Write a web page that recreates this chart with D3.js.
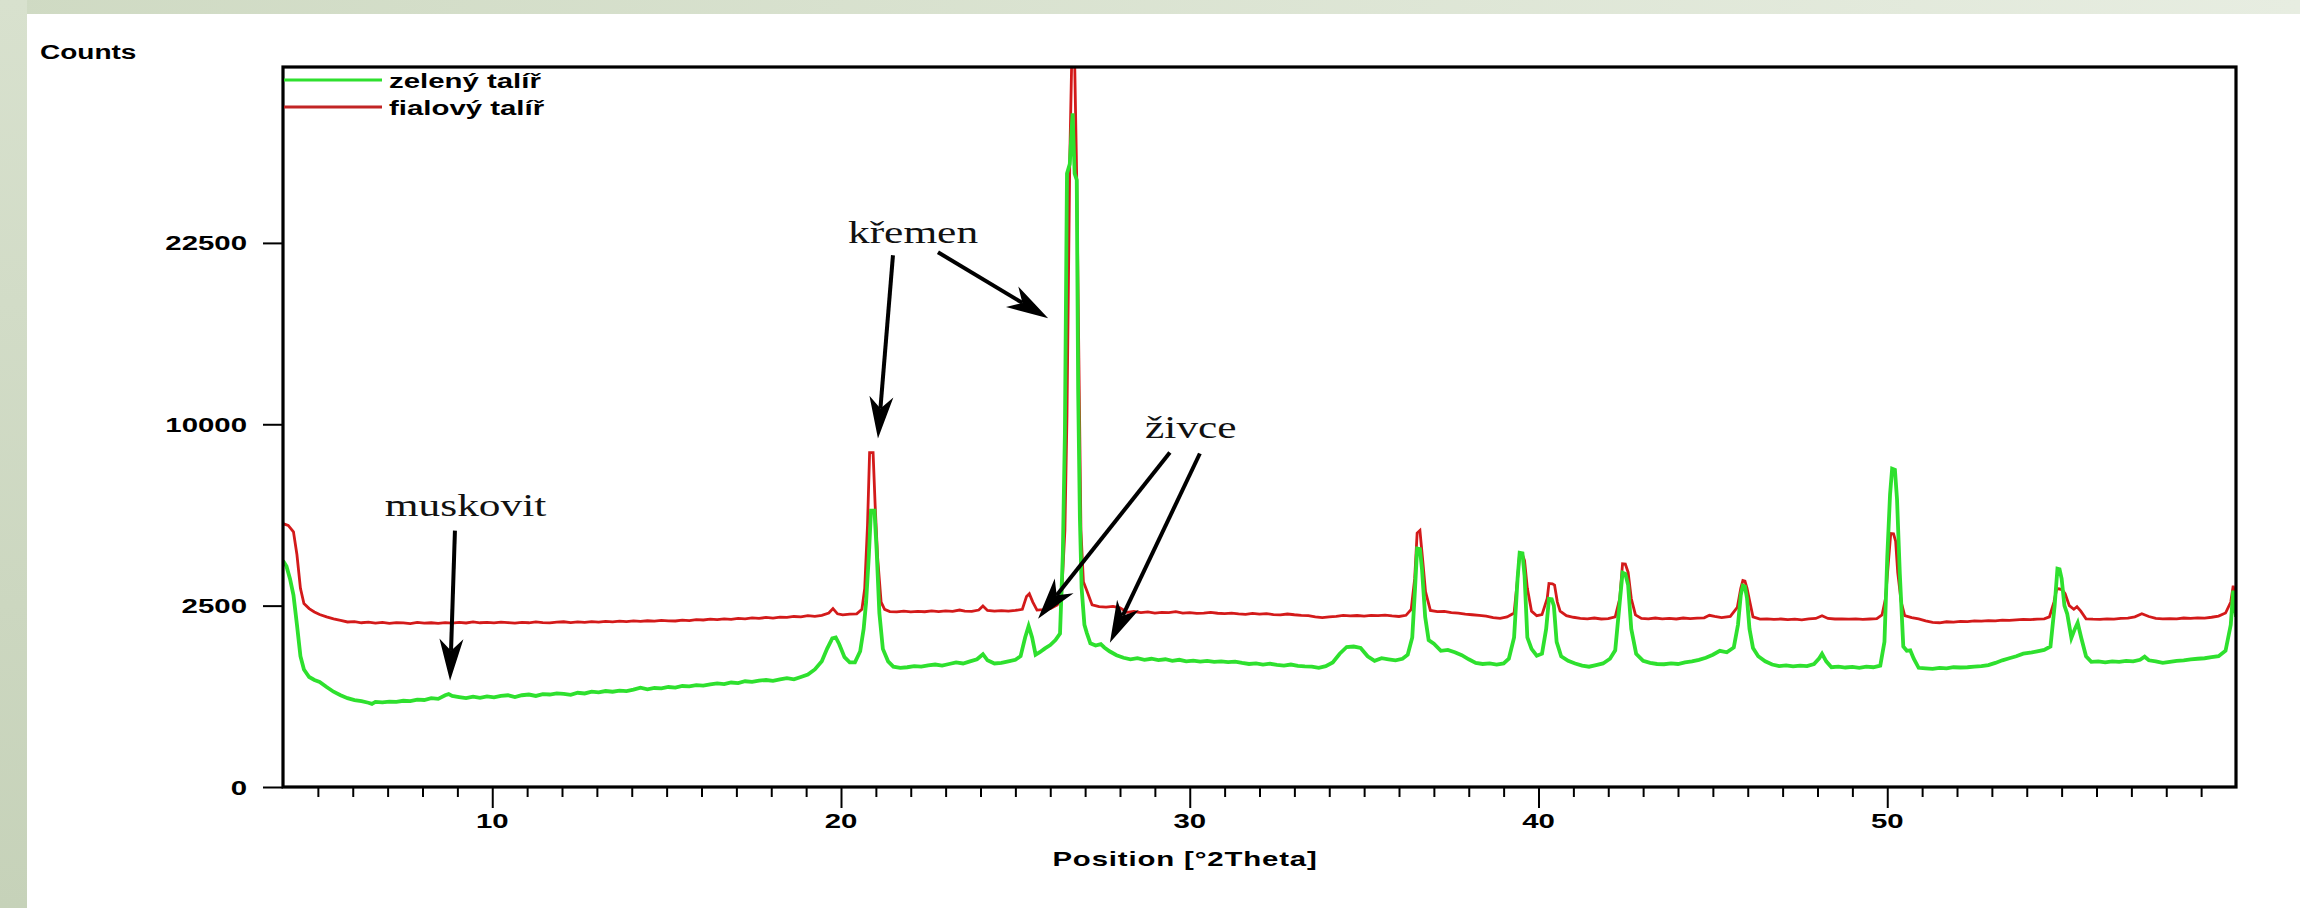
<!DOCTYPE html>
<html>
<head>
<meta charset="utf-8">
<script src="https://cdn.jsdelivr.net/npm/d3@7"></script>
<style>
  body { margin: 0; background: #fff; }
  svg { display: block; }
  .sans { font-family: "Liberation Sans", Arial, sans-serif; font-weight: bold; fill: #000; }
  .serif { font-family: "Liberation Serif", "Times New Roman", serif; fill: #111; }
</style>
</head>
<body>
<div id="chart"></div>
<script>
// --- data: [2Theta, counts] ---
const greenData = [
  [4.00,3890],[4.10,3700],[4.20,3300],[4.30,2800],[4.40,2000],[4.50,1300],[4.60,1050],[4.75,920],[4.90,870],
  [5.05,840],[5.25,760],[5.45,690],[5.65,640],[5.85,600],[6.05,575],[6.25,560],[6.45,540],[6.55,525],[6.65,550],
  [6.85,545],[7.05,555],[7.25,550],[7.45,565],[7.65,560],[7.85,580],[8.05,575],[8.25,600],[8.45,590],[8.65,640],
  [8.75,655],[8.85,630],[9.05,615],[9.25,600],[9.45,620],[9.65,605],[9.85,625],[10.05,610],[10.25,630],[10.45,640],
  [10.65,615],[10.85,640],[11.05,650],[11.25,630],[11.45,655],[11.65,650],[11.85,665],[12.05,660],[12.25,645],
  [12.45,675],[12.65,665],[12.85,690],[13.05,680],[13.25,700],[13.45,690],[13.65,705],[13.85,700],[14.05,720],
  [14.25,750],[14.45,725],[14.65,745],[14.85,740],[15.05,760],[15.25,750],[15.45,775],[15.65,770],[15.85,790],
  [16.05,780],[16.25,800],[16.45,815],[16.65,805],[16.85,830],[17.05,820],[17.25,850],[17.45,840],[17.65,860],
  [17.85,870],[18.05,855],[18.25,880],[18.45,900],[18.65,880],[18.85,920],[19.05,960],[19.25,1050],[19.45,1200],
  [19.60,1450],[19.75,1680],[19.85,1700],[19.95,1550],[20.10,1280],[20.25,1180],[20.40,1180],[20.55,1400],
  [20.65,1900],[20.72,2600],[20.80,4100],[20.86,5800],[20.96,5800],[21.02,4300],[21.10,2300],[21.20,1450],
  [21.35,1200],[21.50,1100],[21.70,1080],[21.90,1090],[22.10,1110],[22.30,1100],[22.50,1125],[22.70,1140],
  [22.90,1120],[23.10,1150],[23.30,1180],[23.50,1160],[23.70,1200],[23.90,1240],[24.07,1340],[24.20,1220],
  [24.40,1160],[24.60,1170],[24.80,1200],[25.00,1230],[25.15,1300],[25.28,1700],[25.38,1970],[25.48,1700],
  [25.58,1330],[25.70,1380],[25.85,1460],[26.00,1530],[26.15,1640],[26.28,1790],[26.36,4100],[26.42,9500],
  [26.48,28600],[26.56,29500],[26.64,34500],[26.70,28600],[26.76,28000],[26.80,12000],[26.85,5500],
  [26.90,3000],[26.98,2000],[27.05,1800],[27.15,1570],[27.30,1520],[27.45,1550],[27.55,1480],[27.70,1400],
  [27.90,1320],[28.10,1270],[28.30,1240],[28.50,1260],[28.70,1230],[28.90,1250],[29.10,1225],[29.30,1240],
  [29.50,1210],[29.70,1230],[29.90,1200],[30.10,1215],[30.30,1195],[30.50,1210],[30.70,1190],[30.90,1200],
  [31.10,1185],[31.30,1195],[31.50,1170],[31.70,1150],[31.90,1160],[32.10,1140],[32.30,1155],[32.50,1135],
  [32.70,1120],[32.90,1140],[33.10,1115],[33.30,1105],[33.50,1100],[33.70,1080],[33.90,1110],[34.10,1180],
  [34.30,1350],[34.50,1490],[34.70,1500],[34.90,1470],[35.10,1300],[35.30,1210],[35.50,1260],[35.70,1240],
  [35.90,1220],[36.10,1250],[36.25,1330],[36.38,1700],[36.46,3000],[36.52,4320],[36.60,4300],[36.66,3600],
  [36.75,2200],[36.85,1640],[37.00,1560],[37.20,1410],[37.40,1430],[37.60,1380],[37.80,1320],[38.00,1240],
  [38.20,1170],[38.40,1150],[38.60,1160],[38.80,1140],[39.00,1160],[39.15,1250],[39.30,1700],[39.40,3300],
  [39.46,4170],[39.54,4150],[39.60,3400],[39.68,1700],[39.80,1450],[39.95,1310],[40.10,1350],[40.22,1900],
  [40.30,2690],[40.38,2680],[40.44,2500],[40.52,1600],[40.65,1300],[40.85,1210],[41.05,1160],[41.25,1120],
  [41.45,1100],[41.65,1130],[41.85,1160],[42.05,1250],[42.20,1420],[42.33,2600],[42.41,3490],[42.49,3450],
  [42.57,3100],[42.66,1900],[42.80,1350],[43.00,1210],[43.20,1170],[43.40,1150],[43.60,1145],[43.80,1160],
  [44.00,1150],[44.20,1180],[44.40,1200],[44.60,1230],[44.80,1270],[45.00,1330],[45.20,1410],[45.40,1380],
  [45.60,1480],[45.72,2000],[45.80,2800],[45.86,3080],[45.92,3050],[45.98,2700],[46.05,1900],[46.15,1470],
  [46.30,1300],[46.50,1200],[46.70,1140],[46.90,1110],[47.10,1125],[47.30,1105],[47.50,1120],[47.70,1110],
  [47.90,1150],[48.05,1260],[48.13,1350],[48.25,1200],[48.40,1090],[48.60,1100],[48.80,1085],[49.00,1095],
  [49.20,1080],[49.40,1100],[49.60,1090],[49.80,1120],[49.92,1600],[50.00,4000],[50.08,6500],[50.14,7700],
  [50.22,7650],[50.28,6300],[50.36,3460],[50.46,1500],[50.56,1410],[50.66,1420],[50.76,1250],[50.90,1080],
  [51.10,1070],[51.30,1060],[51.50,1080],[51.70,1070],[51.90,1090],[52.10,1085],[52.30,1090],[52.50,1100],
  [52.70,1110],[52.90,1130],[53.10,1170],[53.30,1220],[53.50,1260],[53.70,1300],[53.90,1350],[54.10,1370],
  [54.30,1400],[54.50,1430],[54.68,1500],[54.80,2500],[54.88,3620],[54.94,3600],[55.00,3300],[55.08,2500],
  [55.16,2280],[55.28,1690],[55.38,1900],[55.46,2050],[55.56,1700],[55.70,1300],[55.85,1190],[56.05,1200],
  [56.25,1180],[56.45,1200],[56.65,1190],[56.85,1210],[57.05,1200],[57.25,1230],[57.38,1290],[57.50,1220],
  [57.70,1200],[57.90,1170],[58.10,1190],[58.30,1210],[58.50,1220],[58.70,1240],[58.90,1250],[59.10,1260],
  [59.30,1280],[59.50,1300],[59.70,1410],[59.85,2000],[59.92,2930],[60.00,2200]
];

const redData = [
  [4.00,5270],[4.15,5200],[4.30,4950],[4.40,4100],[4.50,3000],[4.60,2560],[4.75,2420],[4.90,2330],[5.05,2260],
  [5.25,2200],[5.45,2150],[5.65,2110],[5.85,2070],[6.05,2080],[6.25,2050],[6.45,2065],[6.65,2040],[6.85,2060],
  [7.05,2035],[7.25,2055],[7.45,2045],[7.65,2030],[7.85,2060],[8.05,2040],[8.25,2050],[8.45,2035],[8.65,2055],
  [8.85,2040],[9.05,2060],[9.25,2045],[9.45,2070],[9.65,2050],[9.85,2060],[10.05,2045],[10.25,2065],[10.45,2055],
  [10.65,2040],[10.85,2060],[11.05,2050],[11.25,2070],[11.45,2055],[11.65,2045],[11.85,2065],[12.05,2075],
  [12.25,2055],[12.45,2070],[12.65,2060],[12.85,2080],[13.05,2065],[13.25,2085],[13.45,2070],[13.65,2090],
  [13.85,2080],[14.05,2095],[14.25,2085],[14.45,2100],[14.65,2090],[14.85,2110],[15.05,2100],[15.25,2095],
  [15.45,2115],[15.65,2105],[15.85,2130],[16.05,2120],[16.25,2140],[16.45,2130],[16.65,2150],[16.85,2135],
  [17.05,2160],[17.25,2150],[17.45,2175],[17.65,2160],[17.85,2185],[18.05,2170],[18.25,2195],[18.45,2185],
  [18.65,2210],[18.85,2200],[19.05,2230],[19.25,2215],[19.45,2240],[19.65,2300],[19.77,2420],[19.90,2280],
  [20.05,2250],[20.25,2270],[20.45,2280],[20.60,2400],[20.68,3000],[20.76,5200],[20.82,8500],[20.92,8500],
  [20.98,6000],[21.05,4000],[21.15,2600],[21.25,2400],[21.40,2340],[21.60,2330],[21.80,2350],[22.00,2330],
  [22.20,2345],[22.40,2335],[22.60,2355],[22.80,2340],[23.00,2360],[23.20,2345],[23.40,2380],[23.55,2350],
  [23.75,2345],[23.95,2380],[24.07,2490],[24.20,2370],[24.40,2350],[24.60,2365],[24.80,2350],[25.00,2370],
  [25.20,2400],[25.32,2760],[25.40,2840],[25.50,2600],[25.62,2380],[25.80,2390],[26.00,2420],[26.20,2520],
  [26.32,2700],[26.42,5000],[26.48,10500],[26.56,30000],[26.62,41000],[26.70,40000],[26.76,28000],
  [26.82,14000],[26.88,5000],[26.95,3200],[27.05,2930],[27.20,2520],[27.40,2470],[27.60,2460],[27.80,2480],
  [28.00,2440],[28.20,2320],[28.40,2340],[28.60,2310],[28.80,2330],[29.00,2300],[29.20,2320],[29.40,2310],
  [29.60,2335],[29.80,2300],[30.00,2310],[30.20,2290],[30.40,2300],[30.60,2315],[30.80,2295],[31.00,2285],
  [31.20,2300],[31.40,2280],[31.60,2265],[31.80,2290],[32.00,2270],[32.20,2285],[32.40,2260],[32.60,2250],
  [32.80,2275],[33.00,2255],[33.20,2240],[33.40,2230],[33.60,2200],[33.80,2180],[34.00,2200],[34.20,2215],
  [34.40,2240],[34.60,2225],[34.80,2235],[35.00,2220],[35.20,2240],[35.40,2230],[35.60,2245],[35.80,2225],
  [36.00,2210],[36.20,2240],[36.35,2400],[36.45,3300],[36.52,4900],[36.60,5000],[36.68,3900],[36.76,2900],
  [36.90,2370],[37.10,2340],[37.30,2345],[37.50,2310],[37.70,2300],[37.90,2270],[38.10,2255],[38.30,2240],
  [38.50,2220],[38.70,2180],[38.90,2160],[39.10,2200],[39.30,2300],[39.40,3300],[39.46,4140],[39.54,4100],
  [39.60,3900],[39.68,3000],[39.80,2350],[39.95,2230],[40.10,2260],[40.25,2700],[40.30,3150],[40.40,3140],
  [40.46,3100],[40.54,2600],[40.62,2350],[40.80,2230],[41.00,2190],[41.20,2160],[41.40,2150],[41.60,2170],
  [41.80,2145],[42.00,2155],[42.20,2200],[42.33,2700],[42.41,3790],[42.49,3780],[42.57,3500],[42.66,2700],
  [42.78,2250],[42.95,2160],[43.15,2150],[43.35,2170],[43.55,2150],[43.75,2160],[43.95,2145],[44.15,2170],
  [44.35,2155],[44.55,2165],[44.75,2175],[44.90,2240],[45.05,2210],[45.25,2180],[45.50,2210],[45.70,2450],
  [45.80,3000],[45.86,3240],[45.92,3220],[45.98,3000],[46.05,2650],[46.15,2200],[46.35,2140],[46.55,2150],
  [46.75,2135],[46.95,2145],[47.15,2130],[47.35,2140],[47.55,2125],[47.75,2150],[47.95,2160],[48.13,2230],
  [48.30,2160],[48.50,2145],[48.70,2150],[48.90,2140],[49.10,2150],[49.30,2135],[49.50,2145],[49.70,2155],
  [49.85,2250],[49.95,2700],[50.03,3800],[50.10,4880],[50.18,4870],[50.24,4600],[50.30,3500],[50.40,2600],
  [50.50,2230],[50.70,2180],[50.90,2150],[51.10,2100],[51.30,2060],[51.50,2050],[51.70,2075],[51.90,2065],
  [52.10,2085],[52.30,2080],[52.50,2095],[52.70,2090],[52.90,2105],[53.10,2100],[53.30,2115],[53.50,2110],
  [53.70,2125],[53.90,2135],[54.10,2130],[54.30,2140],[54.50,2150],[54.65,2200],[54.78,2600],[54.86,2990],
  [54.94,2980],[55.02,2950],[55.10,2840],[55.22,2500],[55.35,2400],[55.44,2470],[55.55,2350],[55.70,2150],
  [55.90,2140],[56.10,2135],[56.30,2150],[56.50,2140],[56.70,2160],[56.90,2170],[57.10,2200],[57.30,2280],
  [57.50,2210],[57.70,2160],[57.90,2150],[58.10,2155],[58.30,2150],[58.50,2170],[58.70,2160],[58.90,2175],
  [59.10,2170],[59.30,2190],[59.50,2220],[59.70,2300],[59.85,2600],[59.92,3080],[60.00,2600]
];

const seriesNames = ["zelený talíř", "fialový talíř"];
const seriesColors = ["#2ee02e", "#d31a1a"];
const yTicks = [0, 2500, 10000, 22500];
const xLabelTicks = [10, 20, 30, 40, 50];

// annotation texts and arrows, in data units
const labels = [
  {text: "křemen", x: 20.2, y: 22475},
  {text: "živce", x: 28.72, y: 9231},
  {text: "muskovit", x: 6.92, y: 5598}
];
const arrows = [
  {x1: 21.49, y1: 21490, x2: 21.06, y2: 9231},
  {x1: 22.78, y1: 21735, x2: 25.94, y2: 16694},
  {x1: 29.43, y1: 8503, x2: 25.65, y2: 2151},
  {x1: 30.29, y1: 8453, x2: 27.71, y2: 1581},
  {x1: 8.93, y1: 4996, x2: 8.79, y2: 857}
];

const width = 2300;
const height = 908;
const plot = {left: 283, right: 2236, top: 67, bottom: 787};
const stretch = 1.4; // the original image is widened, text included

const svg = d3.select("#chart").append("svg")
  .attr("width", width)
  .attr("height", height);

// slide background strips
const defs = svg.append("defs");
const topGrad = defs.append("linearGradient").attr("id", "topStrip");
topGrad.append("stop").attr("offset", "0%").attr("stop-color", "#cfdac3");
topGrad.append("stop").attr("offset", "100%").attr("stop-color", "#e7ede1");
const leftGrad = defs.append("linearGradient").attr("id", "leftStrip")
  .attr("x1", 0).attr("y1", 0).attr("x2", 0).attr("y2", 1);
leftGrad.append("stop").attr("offset", "0%").attr("stop-color", "#d8e1ce");
leftGrad.append("stop").attr("offset", "100%").attr("stop-color", "#c6d2b9");

svg.append("rect").attr("width", width).attr("height", 14).attr("fill", "url(#topStrip)");
svg.append("rect").attr("width", 27).attr("height", height).attr("fill", "url(#leftStrip)");

const x = d3.scaleLinear().domain([4, 60]).range([plot.left, plot.right]);
const y = d3.scaleSqrt().domain([0, 39400]).range([plot.bottom, plot.top]);

defs.append("clipPath").attr("id", "plotClip")
  .append("rect")
  .attr("x", plot.left).attr("y", plot.top)
  .attr("width", plot.right - plot.left).attr("height", plot.bottom - plot.top);

function stretchedText(g, px, py, str, anchor, cls, size) {
  return g.append("text")
    .attr("class", cls)
    .attr("transform", `translate(${px},${py}) scale(${stretch},1)`)
    .attr("text-anchor", anchor)
    .style("font-size", size + "px")
    .text(str);
}

// series: red first, green over it
const line = d3.line().x(d => x(d[0])).y(d => y(d[1]));
const lines = svg.append("g").attr("clip-path", "url(#plotClip)");
lines.append("path")
  .datum(redData)
  .attr("d", line)
  .attr("fill", "none")
  .attr("stroke", seriesColors[1])
  .attr("stroke-width", 2.8)
  .attr("stroke-linejoin", "miter");
lines.append("path")
  .datum(greenData)
  .attr("d", line)
  .attr("fill", "none")
  .attr("stroke", seriesColors[0])
  .attr("stroke-width", 3.8)
  .attr("stroke-linejoin", "miter");

// axes
const minorTicks = d3.range(5, 61).filter(v => v % 10 !== 0);
svg.append("g")
  .attr("transform", `translate(0,${plot.bottom})`)
  .call(d3.axisBottom(x).tickValues(minorTicks).tickSize(10).tickFormat(""))
  .call(g => g.select(".domain").remove())
  .selectAll("line").attr("stroke-width", 2);
svg.append("g")
  .attr("transform", `translate(0,${plot.bottom})`)
  .call(d3.axisBottom(x).tickValues(xLabelTicks).tickSize(21).tickFormat(""))
  .call(g => g.select(".domain").remove())
  .selectAll("line").attr("stroke-width", 2);
svg.append("g")
  .attr("transform", `translate(${plot.left},0)`)
  .call(d3.axisLeft(y).tickValues(yTicks).tickSize(20).tickFormat(""))
  .call(g => g.select(".domain").remove())
  .selectAll("line").attr("stroke-width", 2);

const tickLabels = svg.append("g");
xLabelTicks.forEach(v => stretchedText(tickLabels, x(v), 828, v, "middle", "sans", 21));
yTicks.forEach(v => stretchedText(tickLabels, 247, y(v) + 7.5, v, "end", "sans", 21));

// frame
svg.append("rect")
  .attr("x", plot.left).attr("y", plot.top)
  .attr("width", plot.right - plot.left).attr("height", plot.bottom - plot.top)
  .attr("fill", "none")
  .attr("stroke", "#000")
  .attr("stroke-width", 3.2);

stretchedText(svg, 40, 59, "Counts", "start", "sans", 20);
stretchedText(svg, 1185, 866, "Position [°2Theta]", "middle", "sans", 21)
  .style("letter-spacing", "0.6px");

// legend
const legend = svg.append("g");
seriesNames.forEach((name, i) => {
  const ly = 80 + i * 27;
  legend.append("line")
    .attr("x1", plot.left + 1).attr("x2", 382)
    .attr("y1", ly).attr("y2", ly)
    .attr("stroke", i === 0 ? seriesColors[0] : "#c22424")
    .attr("stroke-width", 3);
  stretchedText(legend, 389, ly + 8, name, "start", "sans", 21);
});

// annotations
const notes = svg.append("g");
labels.forEach(d => stretchedText(notes, x(d.x), y(d.y), d.text, "start", "serif", 31));

const headLen = 42, headHalf = 12, notch = 12;
arrows.forEach(a => {
  const sx = x(a.x1), sy = y(a.y1), tx = x(a.x2), ty = y(a.y2);
  const ang = Math.atan2(ty - sy, tx - sx);
  const back = headLen - notch;
  notes.append("line")
    .attr("x1", sx).attr("y1", sy)
    .attr("x2", tx - back * Math.cos(ang)).attr("y2", ty - back * Math.sin(ang))
    .attr("stroke", "#000")
    .attr("stroke-width", 4);
  notes.append("path")
    .attr("d", `M0,0 L${-headLen},${-headHalf} L${-back},0 L${-headLen},${headHalf} Z`)
    .attr("transform", `translate(${tx},${ty}) rotate(${ang * 180 / Math.PI})`)
    .attr("fill", "#000");
});
</script>
</body>
</html>
